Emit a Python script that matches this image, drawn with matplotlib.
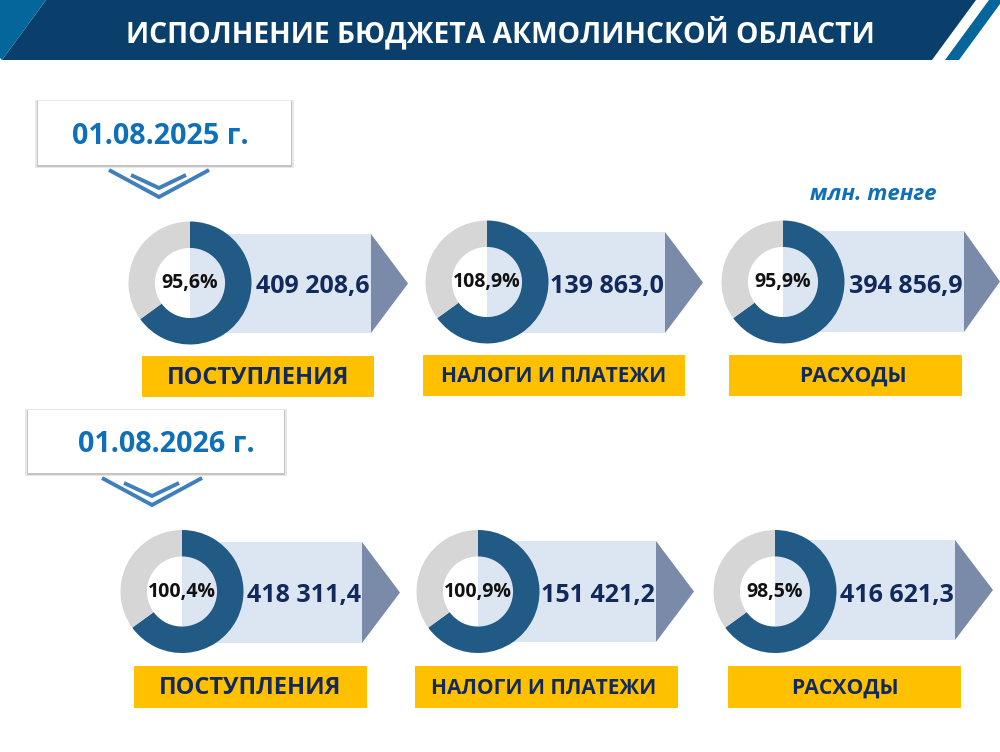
import matplotlib
matplotlib.use('Agg')
import matplotlib.pyplot as plt
from matplotlib.patches import Polygon, Rectangle

W, H = 1000, 752

title = 'ИСПОЛНЕНИЕ БЮДЖЕТА АКМОЛИНСКОЙ ОБЛАСТИ'
unit = 'млн. тенге'
dates = ['01.08.2025 г.', '01.08.2026 г.']
categories = ['ПОСТУПЛЕНИЯ', 'НАЛОГИ И ПЛАТЕЖИ', 'РАСХОДЫ']
percent_2025 = ['95,6%', '108,9%', '95,9%']
percent_2026 = ['100,4%', '100,9%', '98,5%']
amounts_2025 = ['409 208,6', '139 863,0', '394 856,9']
amounts_2026 = ['418 311,4', '151 421,2', '416 621,3']
# the rings are drawn the same in every panel, whatever the label says
ring_dark = [65, 65, 65]
ring_grey = [35, 35, 35]

NAVY = '#0b3f6b'
BLUE = '#05669b'
RING = '#215a84'
GREY = '#d6d6d6'
PALE = '#dce5f2'
ARROW = '#7a8aa9'
YELLOW = '#ffc000'
TEXT = '#12295c'
DATE = '#0f70b7'
CHEVRON = '#3f7fbd'

plt.rcParams['font.family'] = ['Open Sans', 'DejaVu Sans']

fig = plt.figure(figsize=(W / 100, H / 100), dpi=100)
ax = fig.add_axes([0, 0, 1, 1])
ax.set_xlim(0, W)
ax.set_ylim(H, 0)
ax.axis('off')


def donut(cx, cy, r, dark, grey):
    # separate axes so pie keeps its own scale, placed in pixels
    a = fig.add_axes([(cx - r) / W, 1 - (cy + r) / H, 2 * r / W, 2 * r / H])
    a.pie([dark, grey], colors=[RING, GREY], startangle=90, counterclock=False,
          radius=1, wedgeprops={'width': 0.43, 'linewidth': 0})
    a.set_xlim(-1, 1)
    a.set_ylim(-1, 1)
    return a


def panel(cx, cy, right, top, bottom, tip, box, name, pct, amount, i, name_size, name_x):
    ax.add_patch(Rectangle((cx, top), right - cx, bottom - top, color=PALE, lw=0))
    ax.add_patch(Polygon([(right, top), (tip, (top + bottom) / 2), (right, bottom)],
                         color=ARROW, lw=0))
    a = donut(cx, cy, 61.5, ring_dark[i], ring_grey[i])
    a.text(0, 0.0, pct, ha='center', va='center', fontsize=14, fontweight='bold',
           color='#111111')
    ax.text(right - 1, cy + 4, amount, ha='right', va='center', fontsize=18,
            fontweight='bold', color=TEXT)
    x0, y0, x1, y1 = box
    ax.add_patch(Rectangle((x0, y0), x1 - x0, y1 - y0, color=YELLOW, lw=0))
    ax.text(name_x, (y0 + y1) / 2 + 1, name, ha='center', va='center',
            fontsize=name_size, fontweight='bold', color=TEXT)


def date_box(x0, y0, x1, y1, label, tx):
    ax.add_patch(Rectangle((x0 - 3, y0 - 1), x1 - x0 + 6, y1 - y0 + 4, color='#e8e8e8', lw=0))
    ax.add_patch(Rectangle((x0 - 1, y0), x1 - x0 + 2, y1 - y0 + 2, color='#c4c4c4', lw=0))
    ax.add_patch(Rectangle((x0, y0), x1 - x0, y1 - y0, color='white', lw=0))
    ax.text(tx, (y0 + y1) / 2 + 3, label, ha='center', va='center', fontsize=20.7,
            fontweight='bold', color=DATE)


def chevron(cx, top):
    ax.plot([cx - 50, cx, cx + 50], [top, top + 27, top], color=CHEVRON, lw=2.8,
            solid_joinstyle='miter', solid_capstyle='butt')
    ax.plot([cx - 28, cx, cx + 27], [top + 5, top + 18, top + 5], color=CHEVRON, lw=2.8,
            solid_joinstyle='miter', solid_capstyle='butt')


# header band
ax.add_patch(Polygon([(46, 0), (976, 0), (932, 60), (2, 60)], color=NAVY, lw=0))
ax.add_patch(Polygon([(0, 0), (46, 0), (2, 60), (0, 58)], color=BLUE, lw=0))
ax.add_patch(Polygon([(989, 0), (1000, 0), (1000, 4), (959, 60), (945, 60)], color=BLUE, lw=0))
ax.text(500, 33, title, ha='center', va='center', fontsize=20.3, fontweight='bold', color='white')

date_box(38, 101, 291, 165, dates[0], 160)
date_box(28, 410, 284, 473, dates[1], 166)
chevron(159, 170)
chevron(152, 478)
ax.text(873, 195, unit, ha='center', va='center', fontsize=16, fontweight='bold',
        style='italic', color=DATE)

row_2025 = [
    (190, 283, 371, 234, 333, 408, (142, 356, 374, 397), 17, 258),
    (487, 282, 665, 232, 333, 703, (423, 355, 685, 396), 15, 554),
    (783, 282, 964, 231, 332, 1000, (729, 355, 962, 396), 15.2, 853),
]
row_2026 = [
    (182, 591.5, 362, 542, 643, 400, (134, 666, 367, 708), 17, 250),
    (478, 591.5, 656, 541, 642, 694, (415, 666, 678, 708), 15, 544),
    (775, 591.5, 955, 540, 640, 993, (728, 666, 961, 708), 15.2, 845),
]

for i, r in enumerate(row_2025):
    panel(*r[:7], categories[i], percent_2025[i], amounts_2025[i], i, r[7], r[8])
for i, r in enumerate(row_2026):
    panel(*r[:7], categories[i], percent_2026[i], amounts_2026[i], i, r[7], r[8])

fig.savefig('out.png', dpi=100, facecolor='white')
